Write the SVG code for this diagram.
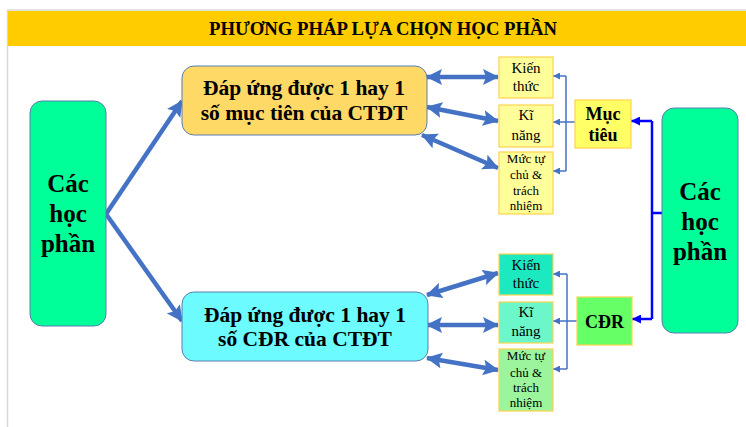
<svg xmlns="http://www.w3.org/2000/svg" width="746" height="427" viewBox="0 0 746 427">
<style>
.t{text-anchor:middle;fill:#000;font-family:"Liberation Serif",serif}
.b{font-weight:bold}
.big{stroke:#5B7DB1;stroke-width:1}
.sm{stroke:#FFD24D;stroke-width:1.2}
.thick{stroke:#4472C4;stroke-width:4.5;fill:none}
.thin{stroke:#4472C4;stroke-width:1.5;fill:none}
.blue{stroke:#0000FF;stroke-width:2.5;fill:none}
</style>
<defs>
<marker id="ah" markerUnits="userSpaceOnUse" markerWidth="16" markerHeight="16" viewBox="0 0 16 16" refX="15" refY="8" orient="auto-start-reverse"><path d="M0,0 L16,8 L0,16 L3,8 z" fill="#4472C4"/></marker>
<marker id="at" markerUnits="userSpaceOnUse" markerWidth="7" markerHeight="7" viewBox="0 0 7 7" refX="7" refY="3.5" orient="auto"><path d="M0,0 L7,3.5 L0,7 z" fill="#4472C4"/></marker>
<marker id="ab" markerUnits="userSpaceOnUse" markerWidth="9" markerHeight="9" viewBox="0 0 9 9" refX="9" refY="4.5" orient="auto"><path d="M0,0 L9,4.5 L0,9 z" fill="#0000FF"/></marker>
</defs>
<rect x="0" y="0" width="746" height="427" fill="#fff"/>
<line x1="7.5" y1="10" x2="7.5" y2="427" stroke="#d9d9d9" stroke-width="1.5"/>
<line x1="7" y1="10" x2="746" y2="10" stroke="#d9d9d9" stroke-width="1.5"/>
<g id="title">
<rect x="8" y="11" width="738" height="35" fill="#FFCC00"/>
<text class="t b" font-family="Liberation Serif" x="383" y="35" font-size="18" textLength="348" lengthAdjust="spacingAndGlyphs">PHƯƠNG PHÁP LỰA CHỌN HỌC PHẦN</text>
</g>
<g id="connectors">
<line class="thick" x1="106" y1="214" x2="182" y2="101" marker-end="url(#ah)"/>
<line class="thick" x1="106" y1="214" x2="182" y2="321" marker-end="url(#ah)"/>
<line class="thick" x1="427" y1="77" x2="498" y2="77" marker-start="url(#ah)" marker-end="url(#ah)"/>
<line class="thick" x1="427" y1="107" x2="498" y2="121" marker-start="url(#ah)" marker-end="url(#ah)"/>
<line class="thick" x1="422" y1="135" x2="498" y2="168" marker-start="url(#ah)" marker-end="url(#ah)"/>
<line class="thick" x1="427" y1="295" x2="498" y2="273" marker-start="url(#ah)" marker-end="url(#ah)"/>
<line class="thick" x1="427" y1="325" x2="498" y2="325" marker-start="url(#ah)" marker-end="url(#ah)"/>
<line class="thick" x1="427" y1="358" x2="498" y2="370" marker-start="url(#ah)" marker-end="url(#ah)"/>
<line class="thin" x1="566" y1="76" x2="566" y2="171"/>
<line class="thin" x1="566" y1="76" x2="553" y2="76" marker-end="url(#at)"/>
<line class="thin" x1="566" y1="171" x2="553" y2="171" marker-end="url(#at)"/>
<line class="thin" x1="575" y1="122" x2="553" y2="122" marker-end="url(#at)"/>
<line class="thin" x1="567" y1="274" x2="567" y2="369"/>
<line class="thin" x1="567" y1="274" x2="553" y2="274" marker-end="url(#at)"/>
<line class="thin" x1="567" y1="369" x2="553" y2="369" marker-end="url(#at)"/>
<line class="thin" x1="577" y1="321" x2="553" y2="321" marker-end="url(#at)"/>
<line class="blue" x1="662" y1="213" x2="652" y2="213"/>
<line class="blue" x1="652" y1="121" x2="652" y2="319"/>
<line class="blue" x1="652" y1="121" x2="631" y2="121" marker-end="url(#ab)"/>
<line class="blue" x1="652" y1="319" x2="632" y2="319" marker-end="url(#ab)"/>
</g>
<g id="hocphan-left">
<rect class="big" x="30" y="101" width="76" height="225" rx="12" fill="#00FF99"/>
<text class="t b" font-family="Liberation Serif" font-size="25"><tspan x="68" y="192">Các</tspan><tspan x="68" y="222">học</tspan><tspan x="68" y="252">phần</tspan></text>
</g>
<g id="muctieu-box">
<rect class="big" x="182" y="66" width="245" height="69" rx="12" fill="#FFD966"/>
<text class="t b" font-family="Liberation Serif" font-size="21.5"><tspan x="304" y="95">Đáp ứng được 1 hay 1</tspan><tspan x="304" y="120">số mục tiên của CTĐT</tspan></text>
</g>
<g id="cdr-box">
<rect class="big" x="182" y="292" width="246" height="69" rx="12" fill="#6CFBFF"/>
<text class="t b" font-family="Liberation Serif" font-size="21.5"><tspan x="305" y="322">Đáp ứng được 1 hay 1</tspan><tspan x="305" y="346">số CĐR của CTĐT</tspan></text>
</g>
<g id="kienthuc-1">
<rect class="sm" x="499" y="57" width="54" height="41" fill="#FFFF99"/>
<text class="t" font-family="Liberation Serif" font-size="15"><tspan x="526" y="73">Kiến</tspan><tspan x="526" y="91">thức</tspan></text>
</g>
<g id="kinang-1">
<rect class="sm" x="499" y="105" width="54" height="42" fill="#FFFF99"/>
<text class="t" font-family="Liberation Serif" font-size="15"><tspan x="526" y="120">Kĩ</tspan><tspan x="526" y="140">năng</tspan></text>
</g>
<g id="muctu-1">
<rect class="sm" x="499" y="152" width="54" height="62" fill="#FFFF99"/>
<text class="t" font-family="Liberation Serif" font-size="13"><tspan x="526" y="163">Mức tự</tspan><tspan x="526" y="179">chủ &amp;</tspan><tspan x="526" y="195">trách</tspan><tspan x="526" y="210">nhiệm</tspan></text>
</g>
<g id="muctieu">
<rect class="sm" x="575" y="100" width="56" height="48" fill="#FFFF66"/>
<text class="t b" font-family="Liberation Serif" font-size="18"><tspan x="603" y="120">Mục</tspan><tspan x="603" y="141">tiêu</tspan></text>
</g>
<g id="kienthuc-2">
<rect class="sm" x="499" y="254" width="54" height="41" fill="#1DE9C0"/>
<text class="t" font-family="Liberation Serif" font-size="15"><tspan x="526" y="270">Kiến</tspan><tspan x="526" y="288">thức</tspan></text>
</g>
<g id="kinang-2">
<rect class="sm" x="499" y="302" width="54" height="41" fill="#6CF7CA"/>
<text class="t" font-family="Liberation Serif" font-size="15"><tspan x="526" y="317">Kĩ</tspan><tspan x="526" y="336">năng</tspan></text>
</g>
<g id="muctu-2">
<rect class="sm" x="499" y="349" width="54" height="62" fill="#9CF59C"/>
<text class="t" font-family="Liberation Serif" font-size="13"><tspan x="526" y="360">Mức tự</tspan><tspan x="526" y="377">chủ &amp;</tspan><tspan x="526" y="392">trách</tspan><tspan x="526" y="407">nhiệm</tspan></text>
</g>
<g id="cdr">
<rect class="sm" x="577" y="297" width="55" height="48" fill="#66FF66"/>
<text class="t b" font-family="Liberation Serif" font-size="18" x="604.5" y="328">CĐR</text>
</g>
<g id="hocphan-right">
<rect class="big" x="662" y="108" width="76" height="225" rx="12" fill="#00FF99"/>
<text class="t b" font-family="Liberation Serif" font-size="25"><tspan x="700" y="200">Các</tspan><tspan x="700" y="230">học</tspan><tspan x="700" y="260">phần</tspan></text>
</g>
</svg>
